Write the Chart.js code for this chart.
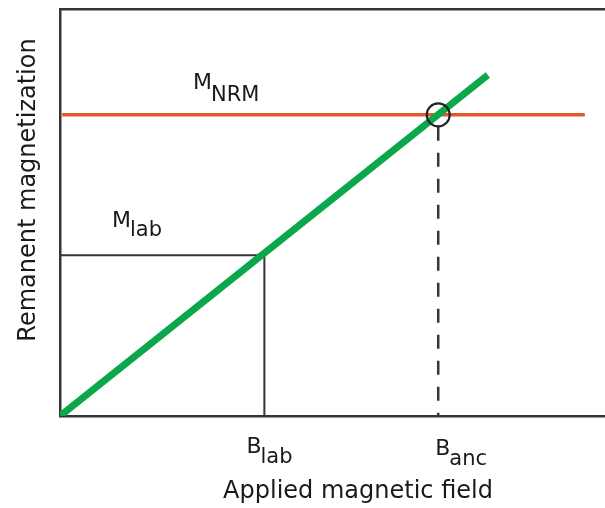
<!DOCTYPE html>
<html>
<head>
<meta charset="utf-8">
<script src="https://cdn.jsdelivr.net/npm/chart.js@4/dist/chart.umd.min.js"></script>
<style>
  html, body { margin: 0; padding: 0; background: #ffffff; overflow: hidden; }
  #wrap { width: 605px; height: 508px; position: relative; }
  #c { display: block; }
</style>
</head>
<body>
<div id="wrap"><canvas id="c" width="605" height="508"></canvas></div>
<script>
// Axis ranges (arbitrary units)
const fieldRange = [0, 100];
const momentRange = [0, 100];

// Laboratory TRM acquisition: linear response through the origin
const trmField = [0, 78.5];
const trmMoment = [0, 83.8];

// Natural remanence level and the extent of its line
const nrmMoment = 74;
const nrmField = [0.4, 96.3];

// Laboratory calibration point
const labField = 37.5;
const labMoment = 39.5;

// Ancient field read where the NRM level meets the TRM line
const ancField = 69.4;

// Text
const xTitle = 'Applied magnetic field';
const yTitle = 'Remanent magnetization';
const labels = {
  nrm: ['M', 'NRM'],
  lab: ['M', 'lab'],
  bLab: ['B', 'lab'],
  bAnc: ['B', 'anc']
};

const FONT = '"DejaVu Sans", sans-serif';
const INK = '#1a1a1a';
const LINE = '#353535';

function drawSub(ctx, parts, x, y, subDrop) {
  ctx.save();
  ctx.fillStyle = INK;
  ctx.textBaseline = 'alphabetic';
  ctx.textAlign = 'left';
  ctx.font = '22px ' + FONT;
  ctx.fillText(parts[0], x, y);
  const w = ctx.measureText(parts[0]).width;
  ctx.font = '21px ' + FONT;
  ctx.fillText(parts[1], x + w - 1, y + subDrop);
  ctx.restore();
}

const annotate = {
  id: 'annotate',
  afterDraw(chart) {
    const { ctx, chartArea } = chart;
    const xs = chart.scales.x, ys = chart.scales.y;

    drawSub(ctx, labels.nrm, xs.getPixelForValue(24.4), ys.getPixelForValue(nrmMoment) - 26, 12);
    drawSub(ctx, labels.lab, 112, ys.getPixelForValue(labMoment) - 28, 9);
    drawSub(ctx, labels.bLab, xs.getPixelForValue(labField) - 18, chartArea.bottom + 37, 10);
    drawSub(ctx, labels.bAnc, xs.getPixelForValue(ancField) - 3, chartArea.bottom + 39, 10);

    ctx.save();
    ctx.fillStyle = INK;
    ctx.font = '24px ' + FONT;
    ctx.textAlign = 'center';
    ctx.textBaseline = 'alphabetic';
    ctx.fillText(xTitle, 358, 498);
    ctx.translate(35, 190);
    ctx.rotate(-Math.PI / 2);
    ctx.fillText(yTitle, 0, 0);
    ctx.restore();
  }
};

const axisCommon = {
  type: 'linear',
  grid: { display: false, drawTicks: false },
  ticks: { display: false },
  border: { display: true, color: LINE, width: 2.5 }
};

new Chart(document.getElementById('c'), {
  type: 'line',
  data: {
    datasets: [
      {
        label: 'crossing',
        data: [{ x: ancField, y: nrmMoment }],
        showLine: false,
        pointRadius: 11.5,
        pointBorderWidth: 2.2,
        pointBorderColor: '#222222',
        pointBackgroundColor: 'rgba(0,0,0,0)',
        order: 0
      },
      {
        label: 'TRM',
        data: trmField.map((x, i) => ({ x, y: trmMoment[i] })),
        borderColor: '#0aa84a',
        borderWidth: 7,
        pointRadius: 0,
        order: 1
      },
      {
        label: 'NRM',
        data: nrmField.map(x => ({ x, y: nrmMoment })),
        borderColor: '#e4572e',
        borderWidth: 3.5,
        pointRadius: 0,
        order: 2
      },
      {
        label: 'lab',
        data: [{ x: 0, y: labMoment }, { x: labField, y: labMoment }, { x: labField, y: 0 }],
        borderColor: LINE,
        borderWidth: 2,
        pointRadius: 0,
        order: 3
      },
      {
        label: 'anc',
        data: [{ x: ancField, y: nrmMoment }, { x: ancField, y: 0 }],
        borderColor: LINE,
        borderWidth: 2.5,
        borderDash: [14, 12],
        borderDashOffset: 14,
        pointRadius: 0,
        order: 4
      }
    ]
  },
  options: {
    responsive: false,
    animation: false,
    layout: { autoPadding: false, padding: { left: 60, top: 9, right: 0, bottom: 92 } },
    plugins: { legend: { display: false }, tooltip: { enabled: false }, title: { display: false } },
    scales: {
      x: Object.assign({}, axisCommon, { position: 'bottom', min: fieldRange[0], max: fieldRange[1] }),
      xTop: Object.assign({}, axisCommon, { position: 'top', min: fieldRange[0], max: fieldRange[1] }),
      y: Object.assign({}, axisCommon, { position: 'left', min: momentRange[0], max: momentRange[1] })
    }
  },
  plugins: [annotate]
});
</script>
</body>
</html>
